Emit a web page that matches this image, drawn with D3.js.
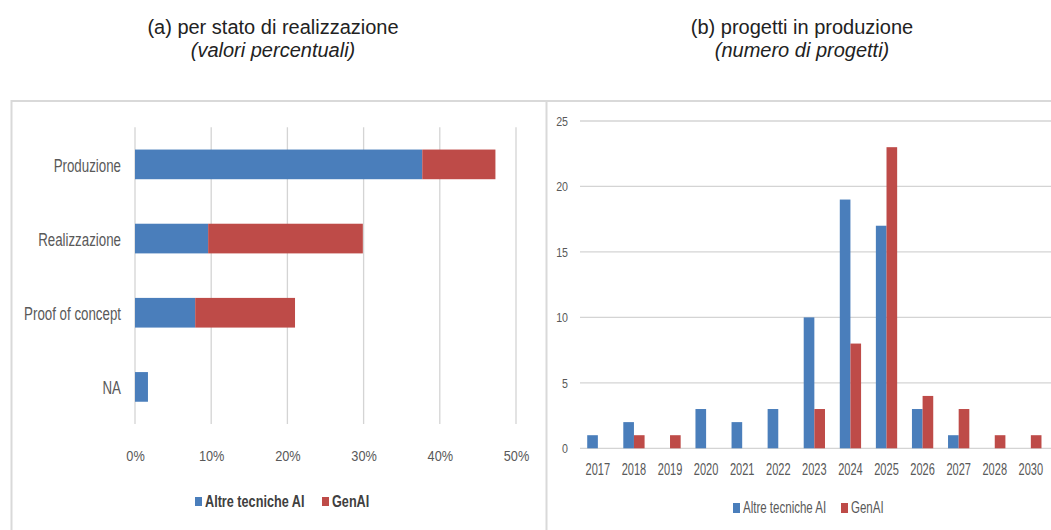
<!DOCTYPE html>
<html>
<head>
<meta charset="utf-8">
<script src="https://cdn.jsdelivr.net/npm/d3@7"></script>
<style>
body{margin:0;background:#fff;}
svg{display:block;}
.lbl{font-family:"Liberation Sans",Arial,sans-serif;fill:#595959;}
.title{font-family:"Liberation Sans",Arial,sans-serif;fill:#222;font-size:20px;}
</style>
</head>
<body>
<svg id="chart" width="1051" height="530"></svg>
<script>
// panel (a): percentage by stage
const stages=["Produzione","Realizzazione","Proof of concept","NA"];
const stageAltre=[37.7,9.6,7.9,1.7];
const stageGenAI=[9.6,20.3,13.1,0];
const pctTicks=[0,10,20,30,40,50];

// panel (b): projects in production by year
const years=["2017","2018","2019","2020","2021","2022","2023","2024","2025","2026","2027","2028","2030"];
const yearAltre=[1,2,0,3,2,3,10,19,17,3,1,0,0];
const yearGenAI=[0,1,1,0,0,0,3,8,23,4,3,1,1];
const countTicks=[0,5,10,15,20,25];

const seriesNames=["Altre tecniche AI","GenAI"];
const colors=["#4a7ebb","#be4b48"];

const svg=d3.select("#chart");

// squeeze text horizontally to get a Calibri-like narrow look
function narrow(sel,size,sx){
    sel.each(function(){
        const t=d3.select(this);
        const x=+t.attr("x")||0;
        t.attr("class","lbl").style("font-size",size+"px")
            .attr("x",x/sx).attr("transform",`scale(${sx},1)`);
    });
}

// titles
const titles=[
    {x:273,t1:"(a) per stato di realizzazione",t2:"(valori percentuali)"},
    {x:802,t1:"(b) progetti in produzione",t2:"(numero di progetti)"}
];
titles.forEach(t=>{
    svg.append("text").attr("class","title").attr("x",t.x).attr("y",34)
        .attr("text-anchor","middle").text(t.t1);
    svg.append("text").attr("class","title").attr("x",t.x).attr("y",56.5)
        .attr("text-anchor","middle").style("font-style","italic").text(t.t2);
});

// panel frames
svg.append("path")
    .attr("d","M11.5,531V101H1051M546.5,101V531")
    .attr("fill","none").attr("stroke","#d9d9d9").attr("stroke-width",2);

// ---- panel (a) ----
const x1=d3.scaleLinear().domain([0,50]).range([135,516]);
const y1=d3.scaleBand().domain(stages).range([127.3,424]).paddingInner(0.6).paddingOuter(0.3);

const gA=svg.append("g");
gA.selectAll(".grid").data(pctTicks).enter().append("line")
    .attr("x1",d=>x1(d)).attr("x2",d=>x1(d))
    .attr("y1",127.3).attr("y2",424)
    .attr("stroke","#d4d4d4").attr("stroke-width",1.3);

const stackA=stages.map((s,i)=>({key:s,a:stageAltre[i],g:stageGenAI[i]}));
gA.selectAll(".ba").data(stackA).enter().append("rect")
    .attr("x",x1(0)).attr("y",d=>y1(d.key))
    .attr("width",d=>x1(d.a)-x1(0)).attr("height",y1.bandwidth())
    .attr("fill",colors[0]);
gA.selectAll(".bg").data(stackA.filter(d=>d.g>0)).enter().append("rect")
    .attr("x",d=>x1(d.a)).attr("y",d=>y1(d.key))
    .attr("width",d=>x1(d.a+d.g)-x1(d.a)).attr("height",y1.bandwidth())
    .attr("fill",colors[1]);

const axA=gA.append("g").attr("transform","translate(0,424)")
    .call(d3.axisBottom(x1).tickValues(pctTicks).tickFormat(d=>d+"%").tickSize(0).tickPadding(26));
axA.select(".domain").remove();
narrow(axA.selectAll("text"),15,0.85);

const ayA=gA.append("g").attr("transform","translate(135,0)")
    .call(d3.axisLeft(y1).tickSize(0).tickPadding(14));
ayA.select(".domain").remove();
narrow(ayA.selectAll("text"),18.5,0.72);
ayA.selectAll("text").attr("dy","0.4em");

// legend (a)
const legA=[{x:195,t:seriesNames[0]},{x:322,t:seriesNames[1]}];
legA.forEach((l,i)=>{
    svg.append("rect").attr("x",l.x).attr("y",497).attr("width",7).attr("height",9).attr("fill",colors[i]);
    const tx=svg.append("text").attr("x",l.x+10).attr("y",507.5).text(l.t);
    narrow(tx,17,0.745);
    tx.style("font-weight","bold").style("fill","#404040");
});

// ---- panel (b) ----
const x2=d3.scaleBand().domain(years).range([580,1048.7]).paddingInner(0.41).paddingOuter(0.2);
const xSub=d3.scaleBand().domain(seriesNames).range([0,x2.bandwidth()]);
const y2=d3.scaleLinear().domain([0,25]).range([448.3,121]);

const gB=svg.append("g");
gB.selectAll(".grid").data(countTicks).enter().append("line")
    .attr("x1",580).attr("x2",1051)
    .attr("y1",d=>y2(d)).attr("y2",d=>y2(d))
    .attr("stroke","#d4d4d4").attr("stroke-width",1.3);

const seriesB=[yearAltre,yearGenAI];
seriesB.forEach((vals,si)=>{
    gB.selectAll(".s"+si).data(years.map((yr,i)=>({yr,v:vals[i]})).filter(d=>d.v>0)).enter().append("rect")
        .attr("x",d=>x2(d.yr)+xSub(seriesNames[si]))
        .attr("y",d=>y2(d.v))
        .attr("width",xSub.bandwidth())
        .attr("height",d=>y2(0)-y2(d.v))
        .attr("fill",colors[si]);
});

const axB=gB.append("g").attr("transform","translate(0,448.3)")
    .call(d3.axisBottom(x2).tickSize(0).tickPadding(15));
axB.select(".domain").remove();
narrow(axB.selectAll("text"),16,0.69);

const ayB=gB.append("g").attr("transform","translate(575,0)")
    .call(d3.axisLeft(y2).tickValues(countTicks).tickSize(0).tickPadding(7));
ayB.select(".domain").remove();
narrow(ayB.selectAll("text"),13,0.82);

// legend (b)
const legB=[{x:733,t:seriesNames[0]},{x:841,t:seriesNames[1]}];
legB.forEach((l,i)=>{
    svg.append("rect").attr("x",l.x).attr("y",503).attr("width",7).attr("height",10).attr("fill",colors[i]);
    const tx=svg.append("text").attr("x",l.x+10).attr("y",513.5).text(l.t);
    narrow(tx,16,0.72);
});
</script>
</body>
</html>
